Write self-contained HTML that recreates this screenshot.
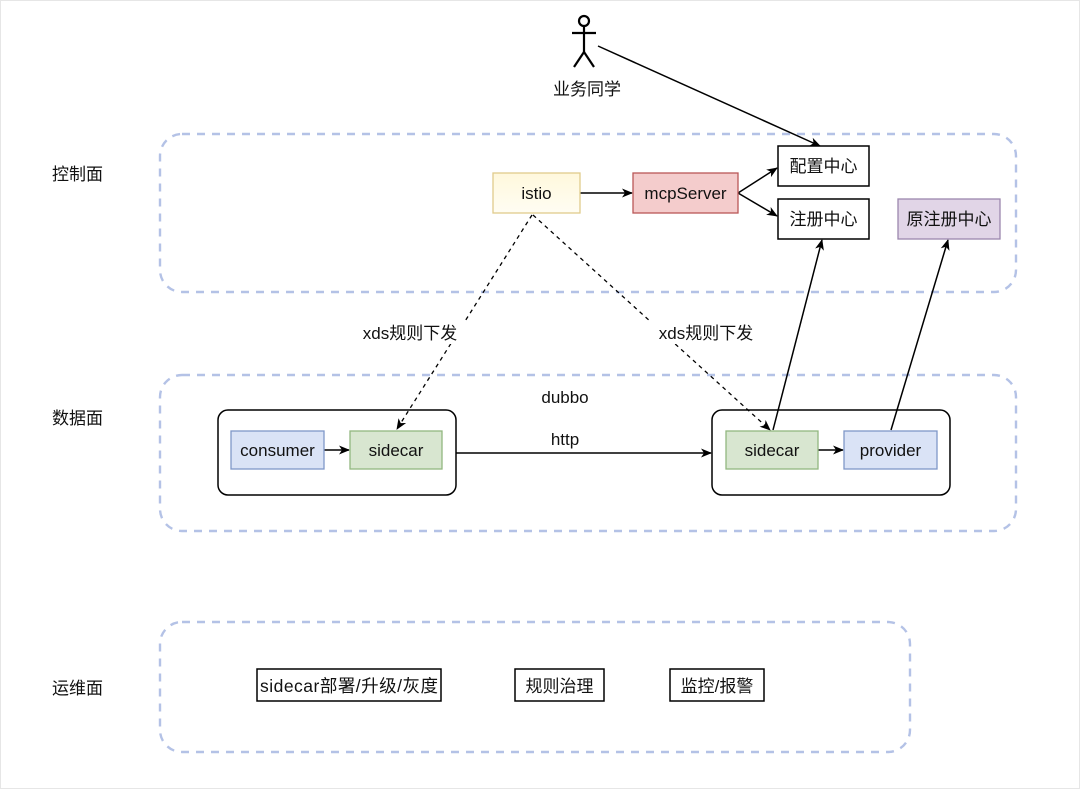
<!DOCTYPE html>
<html><head><meta charset="utf-8"><style>
html,body{margin:0;padding:0;background:#fff}
svg{display:block}
text{font-family:"Liberation Sans","Noto Sans CJK SC",sans-serif;fill:#111}
</style></head><body>
<svg width="1080" height="789" viewBox="0 0 1080 789" xmlns="http://www.w3.org/2000/svg">
<defs>
<marker id="a" markerWidth="11" markerHeight="11" refX="10" refY="5.5" orient="auto" markerUnits="userSpaceOnUse"><path d="M0,1 L11,5.5 L0,10 L3,5.5 Z" fill="#000"/></marker>
<linearGradient id="y" x1="0" y1="0" x2="0" y2="1"><stop offset="0" stop-color="#fff8dc"/><stop offset="1" stop-color="#fffdf3"/></linearGradient>
</defs>
<rect x="0.5" y="0.5" width="1079" height="788" fill="none" stroke="#e6e6e6"/>
<g fill="none" stroke="#b4c2e6" stroke-width="2.4" stroke-dasharray="8,7">
<rect x="160" y="134" width="856" height="158" rx="22"/>
<rect x="160" y="375" width="856" height="156" rx="22"/>
<rect x="160" y="622" width="750" height="130" rx="22"/>
</g>
<g font-size="17">
<text x="52" y="180">控制面</text>
<text x="52" y="424">数据面</text>
<text x="52" y="694">运维面</text>
</g>
<g stroke="#000" stroke-width="2.2" fill="none">
<circle cx="584" cy="21" r="5"/>
<line x1="584" y1="26" x2="584" y2="52"/>
<line x1="572" y1="33" x2="596" y2="33"/>
<line x1="584" y1="52" x2="574" y2="67"/>
<line x1="584" y1="52" x2="594" y2="67"/>
</g>
<text x="587" y="95" font-size="17" text-anchor="middle">业务同学</text>
<g stroke="#000" stroke-width="1.5" fill="none">
<line x1="598" y1="46" x2="820" y2="146" marker-end="url(#a)"/>
<line x1="580" y1="193" x2="632" y2="193" marker-end="url(#a)"/>
<line x1="738" y1="193" x2="777" y2="168" marker-end="url(#a)"/>
<line x1="738" y1="193" x2="777" y2="216" marker-end="url(#a)"/>
<line x1="773" y1="430" x2="822" y2="240" marker-end="url(#a)"/>
<line x1="891" y1="430" x2="948" y2="240" marker-end="url(#a)"/>
<line x1="456" y1="453" x2="711" y2="453" marker-end="url(#a)"/>
<line x1="324" y1="450" x2="349" y2="450" marker-end="url(#a)"/>
<line x1="818" y1="450" x2="843" y2="450" marker-end="url(#a)"/>
</g>
<g stroke="#000" stroke-width="1.3" fill="none" stroke-dasharray="4,4">
<line x1="532" y1="215" x2="397" y2="429" marker-end="url(#a)"/>
<line x1="533" y1="215" x2="770" y2="430" marker-end="url(#a)"/>
</g>
<rect x="354" y="320" width="112" height="24" fill="#fff"/>
<text x="410" y="339" font-size="17" text-anchor="middle">xds规则下发</text>
<rect x="650" y="320" width="112" height="24" fill="#fff"/>
<text x="706" y="339" font-size="17" text-anchor="middle">xds规则下发</text>
<rect x="493" y="173" width="87" height="40" fill="url(#y)" stroke="#e0cb8c" stroke-width="1.3"/>
<text x="536.5" y="199" font-size="17" text-anchor="middle">istio</text>
<rect x="633" y="173" width="105" height="40" fill="#f4cccc" stroke="#b95757" stroke-width="1.3"/>
<text x="685.5" y="199" font-size="17" text-anchor="middle">mcpServer</text>
<rect x="778" y="146" width="91" height="40" fill="#fff" stroke="#000" stroke-width="1.5"/>
<text x="823.5" y="172" font-size="17" text-anchor="middle">配置中心</text>
<rect x="778" y="199" width="91" height="40" fill="#fff" stroke="#000" stroke-width="1.5"/>
<text x="823.5" y="225" font-size="17" text-anchor="middle">注册中心</text>
<rect x="898" y="199" width="102" height="40" fill="#e1d5e7" stroke="#9b87ad" stroke-width="1.3"/>
<text x="949" y="225" font-size="17" text-anchor="middle">原注册中心</text>
<text x="565" y="403" font-size="17" text-anchor="middle">dubbo</text>
<text x="565" y="445" font-size="17" text-anchor="middle">http</text>
<rect x="218" y="410" width="238" height="85" rx="10" fill="none" stroke="#000" stroke-width="1.5"/>
<rect x="712" y="410" width="238" height="85" rx="10" fill="none" stroke="#000" stroke-width="1.5"/>
<rect x="231" y="431" width="93" height="38" fill="#dae3f6" stroke="#7f97c8" stroke-width="1.3"/>
<text x="277.5" y="456" font-size="17" text-anchor="middle">consumer</text>
<rect x="350" y="431" width="92" height="38" fill="#d8e6d0" stroke="#92b77f" stroke-width="1.3"/>
<text x="396" y="456" font-size="17" text-anchor="middle">sidecar</text>
<rect x="726" y="431" width="92" height="38" fill="#d8e6d0" stroke="#92b77f" stroke-width="1.3"/>
<text x="772" y="456" font-size="17" text-anchor="middle">sidecar</text>
<rect x="844" y="431" width="93" height="38" fill="#dae3f6" stroke="#7f97c8" stroke-width="1.3"/>
<text x="890.5" y="456" font-size="17" text-anchor="middle">provider</text>
<g fill="#fff" stroke="#000" stroke-width="1.5">
<rect x="257" y="669" width="184" height="32"/>
<rect x="515" y="669" width="89" height="32"/>
<rect x="670" y="669" width="94" height="32"/>
</g>
<text x="349" y="692" font-size="17.5" text-anchor="middle" textLength="178">sidecar部署/升级/灰度</text>
<text x="559.5" y="692" font-size="17" text-anchor="middle">规则治理</text>
<text x="717" y="692" font-size="17" text-anchor="middle">监控/报警</text>
</svg>
</body></html>
